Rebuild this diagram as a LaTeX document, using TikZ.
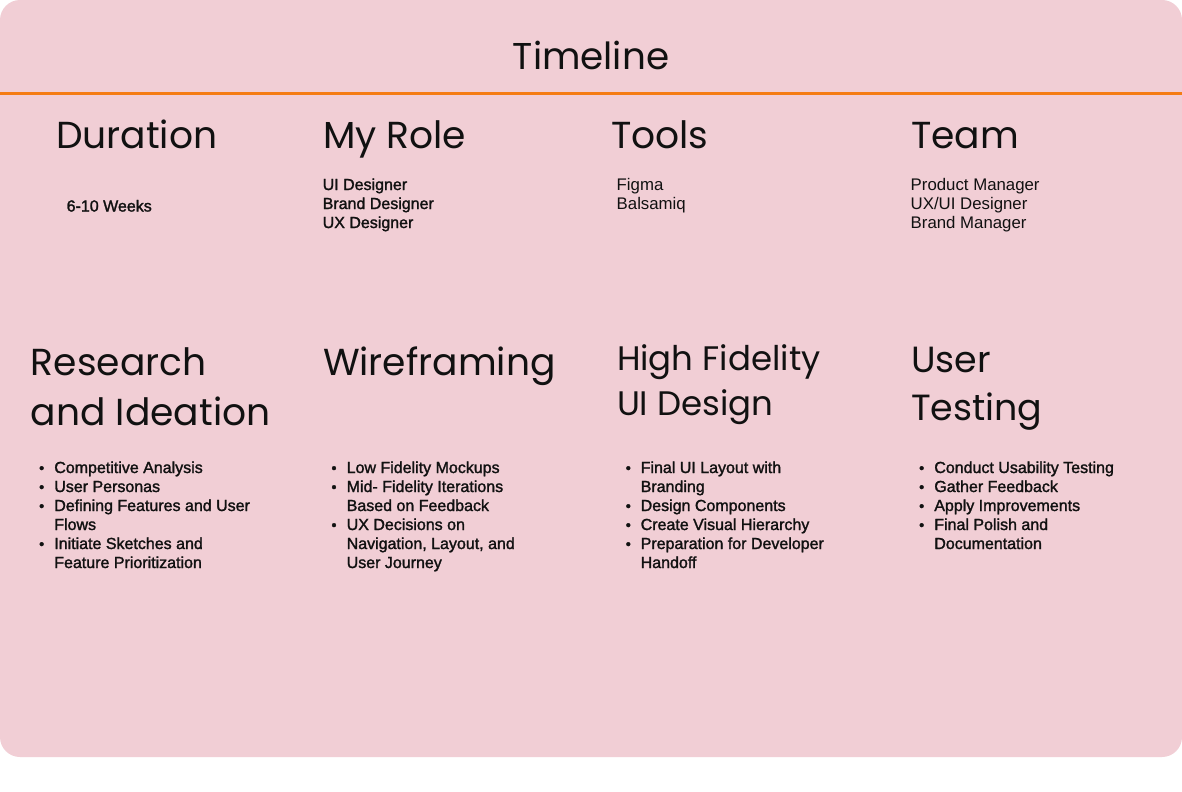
\documentclass[tikz,border=0pt]{standalone}
\usepackage{fontspec}
\setmainfont{Liberation Sans}
\newfontfamily\headfont{Poppins}
\newfontfamily\medfont[FakeBold=1.6]{Liberation Sans}
\newfontfamily\regfont{Liberation Sans}

\definecolor{card}{HTML}{F1CED5}
\definecolor{rule}{HTML}{F57C14}
\definecolor{ink}{HTML}{111111}

\tikzset{
  txt/.style={anchor=base west, inner sep=0pt, outer sep=0pt, text=ink},
  title/.style={txt, anchor=base, font=\headfont\fontsize{28}{34}\selectfont},
  head/.style={txt, font=\headfont\fontsize{28.2}{34}\selectfont},
  headhf/.style={txt, font=\headfont\fontsize{25.5}{30}\selectfont},
  headut/.style={txt, font=\headfont\fontsize{27.3}{32}\selectfont},
  item/.style={txt, font=\medfont\fontsize{12}{14}\selectfont},
  plain/.style={txt, font=\regfont\fontsize{12.6}{15}\selectfont},
  dot/.style={txt, anchor=base, font=\medfont\fontsize{11}{12}\selectfont},
}

\begin{document}
\begin{tikzpicture}[x=0.75pt, y=-0.75pt]
  \useasboundingbox (0,0) rectangle (1182,792);
  \fill[white] (0,0) rectangle (1182,792);
  % card and title rule
  \fill[card, rounded corners=15pt] (0,0) rectangle (1182,757);
  \draw[rule, line width=2.25pt] (0,93.5) -- (1182,93.5);

  \node[title] (timeline) at (591,69.3) {Timeline};

  % overview row
  \node[head] (duration) at (56,148.7) {Duration};
  \node[head] (role) at (323,148.7) {My Role};
  \node[head] (tools) at (611,148.7) {Tools};
  \node[head] (team) at (911,148.7) {Team};

  \node[item] (weeks) at (66.7,211.5) {6-10 Weeks};

  \node[item] (role1) at (322.7,190) {UI Designer};
  \node[item] (role2) at (322.7,209) {Brand Designer};
  \node[item] (role3) at (322.7,228) {UX Designer};

  \node[plain] (tool1) at (616.7,190.5) {Figma};
  \node[plain] (tool2) at (616.7,209.5) {Balsamiq};

  \node[plain] (team1) at (910.7,190.5) {Product Manager};
  \node[plain] (team2) at (910.7,209.5) {UX/UI Designer};
  \node[plain] (team3) at (910.7,228.5) {Brand Manager};

  % phase headings
  \node[head] (research) at (31,375) {Research};
  \node[head] (ideation) at (31,425) {and Ideation};
  \node[head] (wire) at (323,375) {Wireframing};
  \node[headhf] (hifi) at (617,370) {High Fidelity};
  \node[headhf] (uidesign) at (617,415) {UI Design};
  \node[headut] (user) at (911,372) {User};
  \node[headut] (testing) at (911,420) {Testing};

  % research and ideation
  \node[dot] (rb1) at (41.7,473) {•};
  \node[item] (r1) at (54.3,473) {Competitive Analysis};
  \node[dot] (rb2) at (41.7,492) {•};
  \node[item] (r2) at (54.3,492) {User Personas};
  \node[dot] (rb3) at (41.7,511) {•};
  \node[item] (r3) at (54.3,511) {Defining Features and User};
  \node[item] (r3b) at (54.3,530) {Flows};
  \node[dot] (rb4) at (41.7,549) {•};
  \node[item] (r4) at (54.3,549) {Initiate Sketches and};
  \node[item] (r4b) at (54.3,568) {Feature Prioritization};

  % wireframing
  \node[dot] (wb1) at (334,473) {•};
  \node[item] (w1) at (346.7,473) {Low Fidelity Mockups};
  \node[dot] (wb2) at (334,492) {•};
  \node[item] (w2) at (346.7,492) {Mid- Fidelity Iterations};
  \node[item] (w2b) at (346.7,511) {Based on Feedback};
  \node[dot] (wb3) at (334,530) {•};
  \node[item] (w3) at (346.7,530) {UX Decisions on};
  \node[item] (w3b) at (346.7,549) {Navigation, Layout, and};
  \node[item] (w3c) at (346.7,568) {User Journey};

  % high fidelity ui design
  \node[dot] (hb1) at (628.3,473) {•};
  \node[item] (h1) at (640.7,473) {Final UI Layout with};
  \node[item] (h1b) at (640.7,492) {Branding};
  \node[dot] (hb2) at (628.3,511) {•};
  \node[item] (h2) at (640.7,511) {Design Components};
  \node[dot] (hb3) at (628.3,530) {•};
  \node[item] (h3) at (640.7,530) {Create Visual Hierarchy};
  \node[dot] (hb4) at (628.3,549) {•};
  \node[item] (h4) at (640.7,549) {Preparation for Developer};
  \node[item] (h4b) at (640.7,568) {Handoff};

  % user testing
  \node[dot] (ub1) at (921.7,473) {•};
  \node[item] (u1) at (934.3,473) {Conduct Usability Testing};
  \node[dot] (ub2) at (921.7,492) {•};
  \node[item] (u2) at (934.3,492) {Gather Feedback};
  \node[dot] (ub3) at (921.7,511) {•};
  \node[item] (u3) at (934.3,511) {Apply Improvements};
  \node[dot] (ub4) at (921.7,530) {•};
  \node[item] (u4) at (934.3,530) {Final Polish and};
  \node[item] (u4b) at (934.3,549) {Documentation};
\end{tikzpicture}
\end{document}
